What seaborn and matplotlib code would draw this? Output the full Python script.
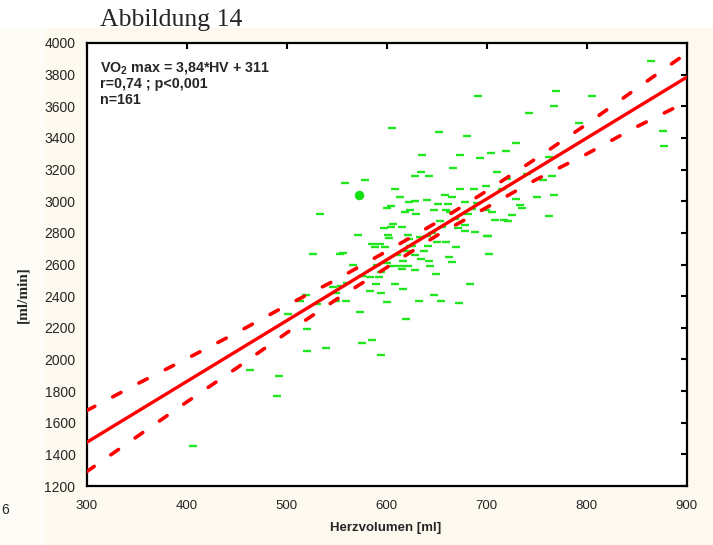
import matplotlib
matplotlib.use("Agg")
import matplotlib.pyplot as plt
import seaborn as sns
from matplotlib.patches import Rectangle

# ---- data ----
hv = [558, 533, 571, 526, 553, 691, 742, 605, 652, 680, 729, 635, 673, 704, 719, 693, 666,
      634, 628, 642, 710, 578, 608, 613, 640, 628, 622, 651, 661, 673, 687, 699, 678, 604,
      600, 618, 623, 629, 647, 659, 663, 681, 699, 705, 729, 733, 735, 725, 708, 717, 721,
      606, 597, 604, 615, 653, 678, 678, 688, 701, 601, 602, 621, 622, 633, 650, 659, 671,
      593, 588, 598, 623, 641, 669, 620, 637, 702, 720, 628, 662, 634, 642, 665, 616, 621,
      613, 615, 628, 643, 605, 649, 594, 592, 589, 608, 683, 616, 583, 594, 647, 600, 632,
      654, 672, 573, 619, 585, 575, 594, 566, 546, 554, 519, 513, 549, 559, 501, 520, 520,
      539, 463, 492, 490, 406, 864, 769, 767, 805, 792, 762, 876, 877, 756, 765, 750, 767,
      762, 700, 585, 583, 658, 665, 556, 549, 560, 575, 590, 610, 625, 640, 655, 668, 685,
      530, 600, 645, 690, 715, 740]
vo2 = [3113, 2921, 2787, 2666, 2668, 3663, 3556, 3461, 3436, 3412, 3366, 3294, 3294, 3303,
       3317, 3271, 3208, 3183, 3158, 3159, 3183, 3134, 3077, 3029, 3006, 3001, 2993, 2980,
       2980, 3077, 3077, 3098, 2995, 2968, 2957, 2932, 2946, 2921, 2944, 2946, 2932, 2919,
       2946, 2930, 3016, 2978, 2957, 2911, 2883, 2883, 2873, 2856, 2829, 2835, 2835, 2873,
       2850, 2814, 2804, 2778, 2787, 2766, 2787, 2759, 2776, 2740, 2740, 2829, 2730, 2709,
       2709, 2719, 2715, 2709, 2687, 2687, 2666, 3140, 2662, 2645, 2637, 2620, 2614, 2620,
       2589, 2593, 2574, 2565, 2589, 2590, 2542, 2551, 2519, 2477, 2477, 2479, 2443, 2431,
       2418, 2407, 2365, 2371, 2371, 2359, 2300, 2254, 2123, 2106, 2028, 2599, 2456, 2466,
       2409, 2371, 2371, 2371, 2287, 2192, 2051, 2074, 1931, 1894, 1767, 1453, 3888, 3699,
       3602, 3663, 3492, 3278, 3444, 3351, 3136, 3159, 3029, 3041, 2909, 2782, 2730, 2519,
       3041, 3028, 2671, 2420, 2480, 2530, 2600, 2660, 2720, 2780, 2840, 2890, 2950, 2350,
       2610, 2800, 2990, 3080, 3170]
hl_x = [572]
hl_y = [3040]

line_x = [300, 900]
line_y = [1475, 3783]

band_x = [300, 350, 400, 450, 500, 550, 600, 650, 700, 750, 800, 850, 900]
band_upper = [1676, 1843, 2004, 2168, 2341, 2505, 2683, 2865, 3064, 3271, 3486, 3712, 3935]
band_lower = [1290, 1510, 1730, 1945, 2167, 2380, 2580, 2782, 2960, 3138, 3298, 3470, 3628]

xticks = [300, 400, 500, 600, 700, 800, 900]
yticks = list(range(1200, 4001, 200))

# ---- style ----
sns.set_style("white")
plt.rcParams["font.family"] = ["Liberation Sans", "DejaVu Sans"]
plt.rcParams["mathtext.fontset"] = "custom"
plt.rcParams["mathtext.bf"] = "Liberation Sans:bold"
plt.rcParams["mathtext.rm"] = "Liberation Sans:bold"

W, H = 713, 545
fig = plt.figure(figsize=(W / 100, H / 100), dpi=100, facecolor="white")
fig.patches.append(Rectangle((45 / W, 0), 1 - 45 / W, 1 - 28 / H, transform=fig.transFigure,
                             facecolor="#FDF9EE", edgecolor="none", zorder=-10))
fig.patches.append(Rectangle((0, 0), 45 / W, 1 - 28 / H, transform=fig.transFigure,
                             facecolor="#FEFCF6", edgecolor="none", zorder=-10))

L, R, T, B = 86.5, 686.5, 43, 486
ax = fig.add_axes([L / W, 1 - B / H, (R - L) / W, (B - T) / H])
ax.set_facecolor("white")

sns.scatterplot(x=hv, y=vo2, marker="_", s=30, color="#20E620", linewidth=1.7, ax=ax,
                zorder=2, legend=False)
sns.scatterplot(x=hl_x, y=hl_y, marker="o", s=40, color="#10E010", edgecolor="#10E010",
                ax=ax, zorder=2, legend=False)

sns.lineplot(x=line_x, y=line_y, color="#FF0000", linewidth=2.4, ax=ax, zorder=4,
             solid_capstyle="round")
for yb in (band_upper, band_lower):
    sns.lineplot(x=band_x, y=yb, color="#FF0000", linewidth=2.6, ax=ax, zorder=4,
                 linestyle=(0, (2.6, 5.6)), dash_capstyle="round")

ax.set_xlim(300, 900)
ax.set_ylim(1200, 4000)
ax.set_xticks(xticks)
ax.set_yticks(yticks)
ax.set_xticklabels([str(v) for v in xticks], fontsize=9.5)
ax.set_yticklabels([str(v) for v in yticks], fontsize=10)
ax.set_xlabel("")
ax.set_ylabel("")
ax.tick_params(top=True, right=True, left=False, bottom=False, direction="in",
               length=4, width=1.5, color="black", labeltop=False, labelright=False)
ax.tick_params(axis="x", pad=10)
ax.tick_params(axis="y", pad=8)
for s in ax.spines.values():
    s.set_visible(True)
    s.set_color("black")
    s.set_linewidth(1.6)

# ---- texts ----
fig.text(100 / W, 1 - 68 / H, r"VO$_\mathbf{2}$ max = 3,84*HV + 311", fontsize=10.3,
         fontweight="bold", va="center", ha="left")
fig.text(100 / W, 1 - 84 / H, "r=0,74 ; p<0,001", fontsize=10.3, fontweight="bold",
         va="center", ha="left")
fig.text(100 / W, 1 - 100 / H, "n=161", fontsize=10.3, fontweight="bold",
         va="center", ha="left")

fig.text(386 / W, 1 - 528 / H, "Herzvolumen [ml]", fontsize=9.5, fontweight="bold",
         ha="center", va="center")
fig.text(23 / W, 1 - 295 / H, "[ml/min]", family=["Liberation Serif", "DejaVu Serif"],
         fontweight="bold", fontsize=11, rotation=90, ha="center", va="center")
fig.text(100 / W, 1 - 26 / H, "Abbildung 14", family=["Liberation Serif", "DejaVu Serif"],
         fontsize=18.5, ha="left", va="baseline")
fig.text(1 / W, 1 - 510 / H, "6", fontsize=10, ha="left", va="center")

fig.savefig("out.png", dpi=100, facecolor=fig.get_facecolor())
